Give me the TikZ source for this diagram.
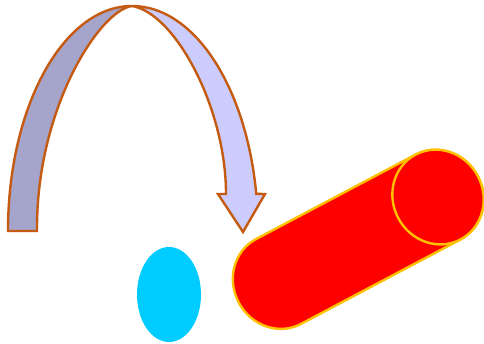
\documentclass[tikz,border=0pt]{standalone}
\usetikzlibrary{calc}
\definecolor{darkband}{HTML}{A5A5CC}
\definecolor{lightband}{HTML}{CCCCFF}
\definecolor{arrowline}{HTML}{C55A11}
\definecolor{cylred}{HTML}{FF0000}
\definecolor{cylline}{HTML}{FFC000}
\definecolor{blueoval}{HTML}{00CCFF}
\tikzset{
  arrowoutline/.style={draw=arrowline, line width=2.4pt, line join=miter},
  cylstyle/.style={fill=cylred, draw=cylline, line width=2.4pt},
}
\begin{document}
\begin{tikzpicture}[x=1pt,y=1pt]
\useasboundingbox (0,0) rectangle (484,343);
% coordinates of the curved arrow
\coordinate (outerL) at (8,112);
\coordinate (apex) at (132,337);
\coordinate (innerL) at (37,112);
\coordinate (shaftIn) at (226,149);
\coordinate (wingR) at (265,149);
\coordinate (tip) at (243,111);
\coordinate (wingL) at (218,149);
% dark (back) band
\fill[darkband] (outerL) arc[start angle=180, end angle=90, x radius=124, y radius=225]
  .. controls (100,333) and (36,235) .. (innerL) -- cycle;
% light (front) band with head
\fill[lightband] (apex) arc[start angle=90, end angle=9.5, x radius=126, y radius=225]
  -- (wingR) -- (tip) -- (wingL) -- (shaftIn)
  .. controls (226,235) and (175,330) .. (apex) -- cycle;
% outline
\draw[arrowoutline] (outerL) arc[start angle=180, end angle=90, x radius=124, y radius=225]
  arc[start angle=90, end angle=9.5, x radius=126, y radius=225]
  -- (wingR) -- (tip) -- (wingL) -- (shaftIn)
  .. controls (226,235) and (175,330) .. (apex)
  .. controls (100,333) and (36,235) .. (innerL) -- cycle;
% blue oval
\coordinate (oval) at (169,48.5);
\fill[blueoval] (oval) ellipse[x radius=32, y radius=47.5];
% cylinder
\begin{scope}[shift={(278.5,61.5)}, rotate=27.9]
  \draw[cylstyle] (0,-48) -- (180.5,-48)
    arc[start angle=-90, end angle=90, x radius=45, y radius=48]
    -- (0,48) arc[start angle=90, end angle=270, x radius=45, y radius=48] -- cycle;
  \coordinate (cap) at (180.5,0);
  \draw[cylstyle] (cap) ellipse[x radius=45, y radius=48];
\end{scope}
\end{tikzpicture}
\end{document}
